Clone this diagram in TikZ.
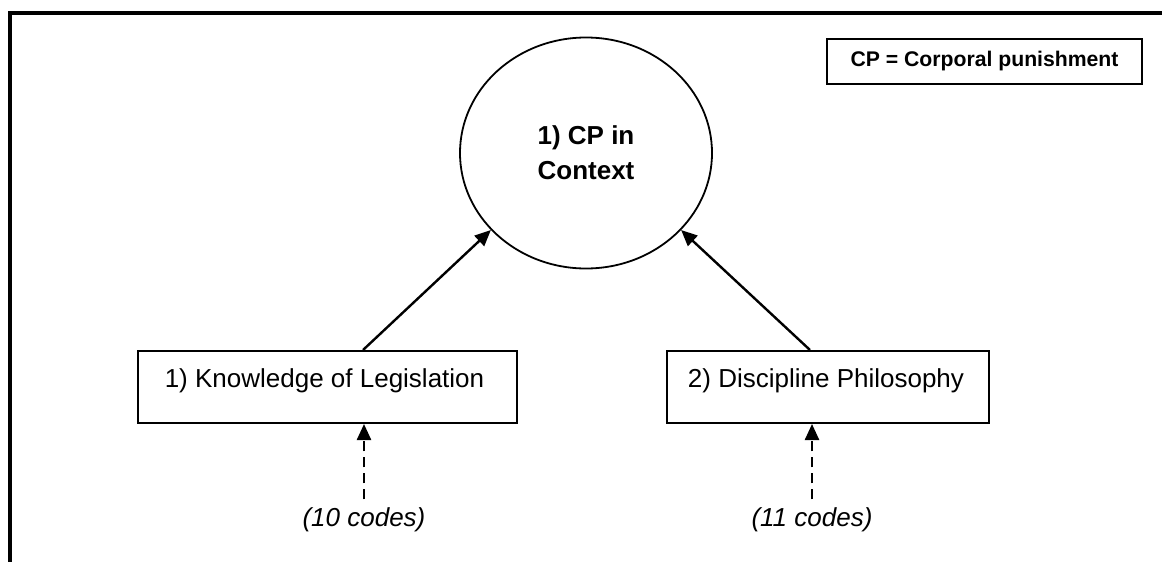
\documentclass[tikz,border=0pt]{standalone}
\usepackage{fontspec}
\setmainfont{Liberation Sans}
\usetikzlibrary{shapes.geometric,arrows.meta}
\begin{document}
\begin{tikzpicture}[x=0.5pt,y=-0.5pt,
    every node/.style={font=\fontsize{13pt}{15.6pt}\selectfont},
    themebox/.style={draw,line width=1pt,rectangle,inner xsep=0pt,inner ysep=0pt,text height=18pt,text depth=18pt},
    link/.style={line width=1.2pt,-{Triangle[length=8pt,width=7pt]}},
    codelink/.style={link,dash pattern=on 5pt off 3pt},
    codes/.style={font=\fontsize{13pt}{15.6pt}\selectfont\itshape,inner sep=4pt}]
    \useasboundingbox (0,0) rectangle (1162,562);
    \draw[line width=2pt] (10,562) -- (10,13) -- (1162,13); % frame, top and left only

    % Legend Box
    \node[draw,line width=1pt,minimum width=157.5pt,minimum height=22.5pt,font=\fontsize{10.6pt}{12pt}\selectfont\bfseries] (legend) at (984.5,61.5) {CP = Corporal punishment};

    % Main theme
    \node[draw,ellipse,line width=0.9pt,minimum width=126pt,minimum height=115.5pt,inner sep=0pt,align=center,font=\fontsize{13pt}{17.5pt}\selectfont\bfseries] (cp) at (586,153) {1) CP in\\Context};

    % Sub-themes
    \node[themebox,minimum width=189.5pt] (know) at (327.5,387) {\hspace{-3pt}1) Knowledge of Legislation};
    \node[themebox,minimum width=161pt] (disc) at (828,387) {\hspace{-2pt}2) Discipline Philosophy};

    % Codes
    \node[codes] (codesA) at (364,520) {(10 codes)};
    \node[codes] (codesB) at (812,520) {(11 codes)};

    \draw[link] ([xshift=17.75pt]know.north) -- (cp.219);
    \draw[link] ([xshift=-9pt]disc.north) -- (cp.321);
    \draw[codelink] (codesA.north) -- ([xshift=18.25pt]know.south);
    \draw[codelink] (codesB.north) -- ([xshift=-8pt]disc.south);
\end{tikzpicture}
\end{document}
